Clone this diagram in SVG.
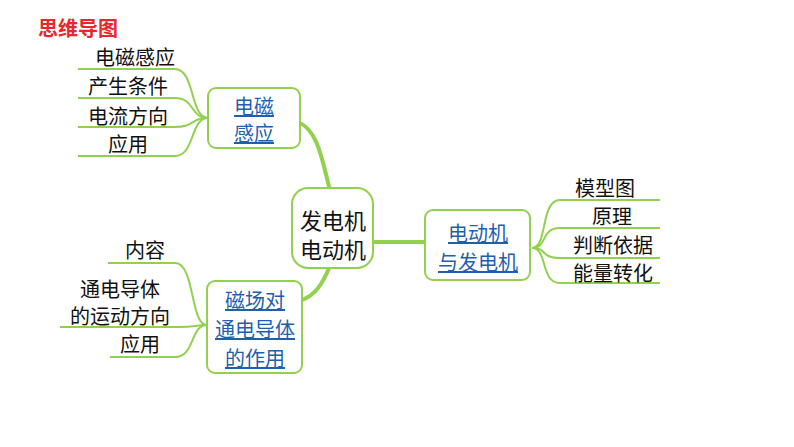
<svg xmlns="http://www.w3.org/2000/svg" width="794" height="447" viewBox="0 0 794 447">
<style>
text{font-family:"Noto Sans CJK SC","Liberation Sans",sans-serif;text-anchor:middle}
.leaf{font-size:20px;fill:#111}
.node{font-size:20px;fill:#1f5fad;text-decoration:underline}
.box{fill:#fff;stroke:#92d050;stroke-width:2}
.thin{fill:none;stroke:#92d050;stroke-width:2}
.thick{fill:none;stroke:#92d050;stroke-width:4;stroke-linecap:round}
</style>
<rect width="794" height="447" fill="#fff"/>
<text x="38" y="36" style="text-anchor:start;font-size:20px;font-weight:bold;fill:#e8262b">思维导图</text>
<g id="connectors">
<path class="thick" d="M298,122 C318,130 322,160 330,190"/>
<path class="thick" d="M330,266 C322,285 315,295 302,300"/>
<path class="thick" d="M370,242 L426,242"/>
<path class="thin" d="M208,118 C190,118 195,69 175,69 L78,69"/>
<path class="thin" d="M208,118 C190,118 195,98 175,98 L78,98"/>
<path class="thin" d="M208,118 C190,118 195,127 175,127 L78,127"/>
<path class="thin" d="M208,118 C190,118 195,156 175,156 L78,156"/>
<path class="thin" d="M207,325 C190,325 195,263 175,263 L108,263"/>
<path class="thin" d="M207,325 C195,325 195,327 180,327 L60,327"/>
<path class="thin" d="M207,325 C190,325 195,357 175,357 L110,357"/>
<path class="thin" d="M532,248 C548,248 540,200 560,200 L660,200"/>
<path class="thin" d="M532,248 C548,248 540,228 560,228 L660,228"/>
<path class="thin" d="M532,248 C548,248 540,258 560,258 L660,258"/>
<path class="thin" d="M532,248 C548,248 540,283 560,283 L660,283"/>
</g>
<g id="center"><rect class="box" x="292" y="188" width="81" height="80" rx="16"/>
<text x="333" y="229" style="font-size:22px;fill:#111">发电机</text><text x="333" y="258" style="font-size:22px;fill:#111">电动机</text></g>
<g id="n1"><rect class="box" x="208" y="88" width="92" height="60" rx="8"/>
<text class="node" x="254" y="114">电磁</text><text class="node" x="254" y="141">感应</text></g>
<g id="n2"><rect class="box" x="207" y="281" width="95" height="92" rx="8"/>
<text class="node" x="255" y="308">磁场对</text><text class="node" x="255" y="337">通电导体</text><text class="node" x="255" y="366">的作用</text></g>
<g id="n3"><rect class="box" x="425" y="210" width="105" height="70" rx="8"/>
<text class="node" x="478" y="241">电动机</text><text class="node" x="478" y="270">与发电机</text></g>
<g id="leaves">
<text class="leaf" x="135" y="65">电磁感应</text>
<text class="leaf" x="128" y="94">产生条件</text>
<text class="leaf" x="128" y="124">电流方向</text>
<text class="leaf" x="128" y="152">应用</text>
<text class="leaf" x="145" y="258">内容</text>
<text class="leaf" x="120" y="297">通电导体</text>
<text class="leaf" x="120" y="324">的运动方向</text>
<text class="leaf" x="140" y="352">应用</text>
<text class="leaf" x="605" y="196">模型图</text>
<text class="leaf" x="612" y="224">原理</text>
<text class="leaf" x="613" y="253">判断依据</text>
<text class="leaf" x="613" y="281">能量转化</text>
</g>
</svg>
